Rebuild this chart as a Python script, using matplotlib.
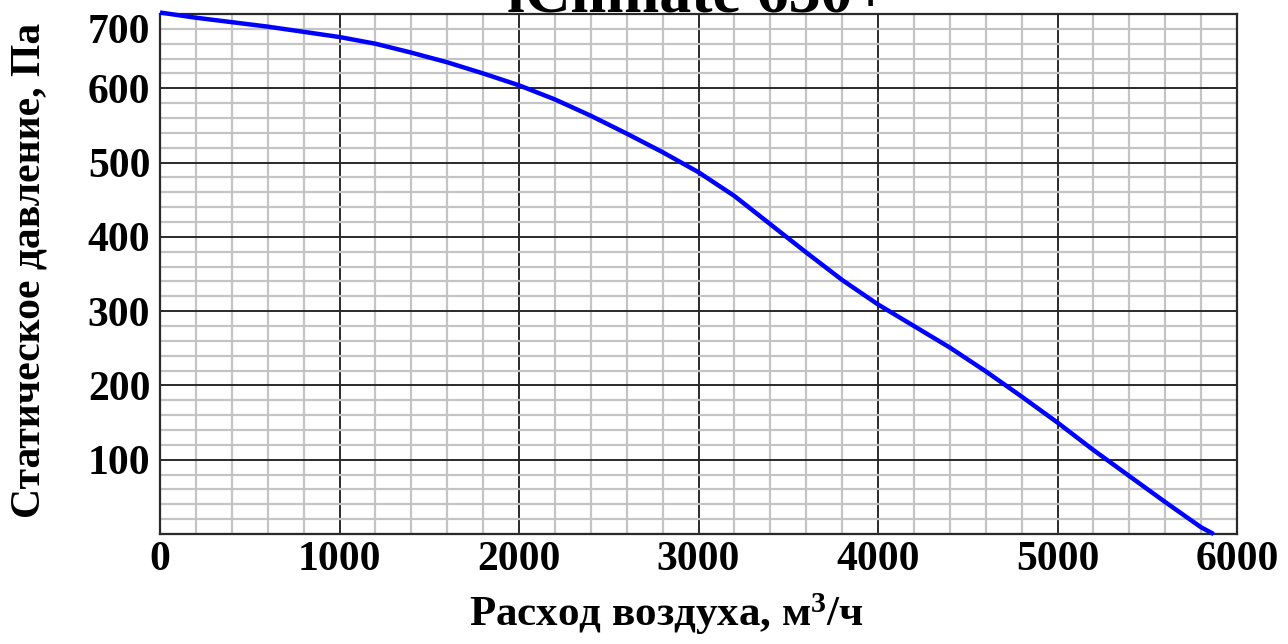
import matplotlib
matplotlib.use("Agg")
import matplotlib.pyplot as plt
from matplotlib.ticker import MultipleLocator

plt.rcParams['font.family'] = ['Liberation Serif', 'DejaVu Serif']
plt.rcParams['mathtext.fontset'] = 'custom'
plt.rcParams['mathtext.rm'] = 'Liberation Serif:bold'
plt.rcParams['mathtext.bf'] = 'Liberation Serif:bold'
plt.rcParams['mathtext.default'] = 'bf'

title = "iClimate 630+"
x_label = "Расход воздуха, м$^{3}$/ч"
y_label = "Статическое давление, Па"

flow = [0, 200, 400, 600, 800, 1000, 1200, 1400, 1600, 1800, 2000, 2200, 2400,
        2600, 2800, 3000, 3200, 3400, 3600, 3800, 4000, 4200, 4400, 4600, 4800,
        5000, 5200, 5400, 5600, 5800, 5870]
pressure = [702, 695, 689, 683, 676, 669, 660, 648, 635, 620, 604, 585, 563,
            539, 514, 487, 455, 417, 379, 342, 309, 280, 251, 219, 185,
            150, 113, 78, 43, 9, 0]

x_ticks = [0, 1000, 2000, 3000, 4000, 5000, 6000]
y_ticks = [100, 200, 300, 400, 500, 600, 700]

fig = plt.figure(figsize=(12.88, 6.44), dpi=100)
ax = fig.add_axes([160/1288, 1 - 534/644, (1237 - 160)/1288, (534 - 14)/644])

ax.plot(flow, pressure, color='#0000ff', lw=3.2, solid_capstyle='butt',
        solid_joinstyle='round', zorder=5, clip_on=False)

ax.set_xlim(0, 6000)
ax.set_ylim(0, 700)
ax.xaxis.set_minor_locator(MultipleLocator(200))
ax.yaxis.set_minor_locator(MultipleLocator(20))
ax.set_xticks(x_ticks)
ax.set_yticks(y_ticks)
ax.grid(which='minor', color='#c4c4c4', lw=1.6)
ax.grid(which='major', color='#2a2a2a', lw=1.4)
ax.set_axisbelow(True)
for s in ax.spines.values():
    s.set_color('#2a2a2a')
    s.set_linewidth(1.6)

ax.tick_params(which='both', length=0)
ax.tick_params(axis='x', pad=5, labelsize=30)
ax.tick_params(axis='y', pad=7, labelsize=30)
for lab in ax.get_xticklabels() + ax.get_yticklabels():
    lab.set_fontweight('bold')
ylabs = ax.get_yticklabels()
ylabs[-1].set_verticalalignment('top')

fig.text(698/1288, 1 - 11/644, title, ha='center', va='baseline',
         fontsize=46, fontweight='bold')
fig.text(666/1288, 1 - 614/644, x_label, ha='center', va='center',
         fontsize=31, fontweight='bold')
fig.text(30/1288, 1 - 270/644, y_label, ha='center', va='center',
         rotation=90, fontsize=30, fontweight='bold')

fig.savefig("out.png", dpi=100, facecolor='white')
